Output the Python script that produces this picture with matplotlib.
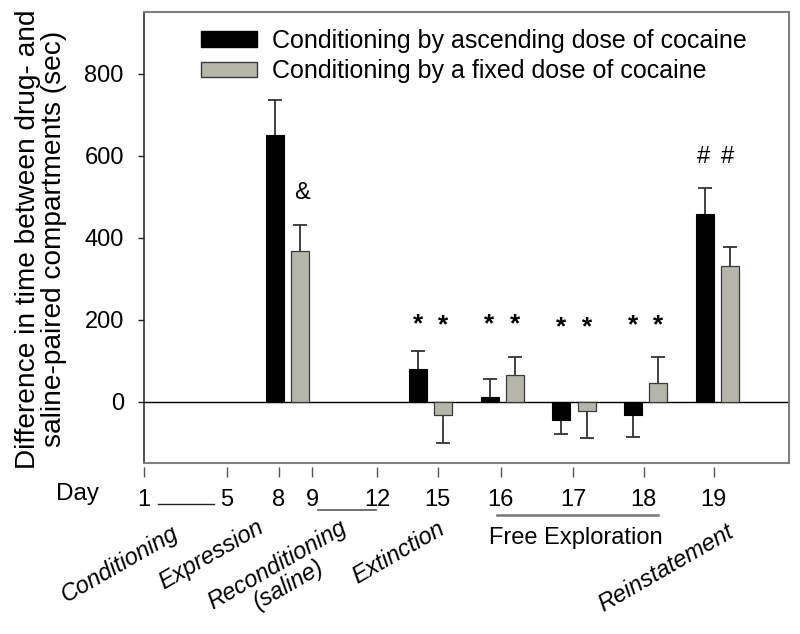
import matplotlib
matplotlib.use("Agg")
import matplotlib.pyplot as plt
import matplotlib.transforms as mtransforms
import numpy as np

plt.rcParams['font.family'] = ['Liberation Sans', 'DejaVu Sans']

# ---- data ----
groups = ['Expression', 'Extinction', 'Day 16', 'Day 17', 'Day 18', 'Reinstatement']
ascending = [650, 79, 12, -45, -33, 458]
ascending_err = [85, 44, 43, 34, 54, 63]
fixed = [366, -34, 64, -24, 44, 330]
fixed_err = [65, 68, 45, 66, 65, 46]
star_asc_y = [None, 189, 189, 181, 185, None]
star_fix_y = [None, 185, 189, 181, 187, None]
amp_y = 508
hash_y = 596
yticks = [0, 200, 400, 600, 800]
day_labels = ['1', '5', '8', '9', '12', '15', '16', '17', '18', '19']
phase_labels = ['Conditioning', 'Expression', 'Reconditioning\n(saline)', 'Extinction', 'Reinstatement']
legend_labels = ['Conditioning by ascending dose of cocaine', 'Conditioning by a fixed dose of cocaine']

# ---- layout (positions, not data) ----
slots = np.array([2, 4, 5, 6, 7, 8], dtype=float)
day_tick_pos = [0.0, 1.16, 1.88, 2.35, 3.25, 4.10, 4.98, 5.99, 6.97, 7.95]
phase_pos = [(-0.335, -0.224), (0.934, -0.204), (1.94, -0.248), (3.556, -0.199), (7.29, -0.233)]
off = 0.178
bw = 0.25

fig = plt.figure(figsize=(8, 6.34), dpi=100)
ax = fig.add_axes([144/800, 1-463/634, 645/800, 451/634])

asc = np.array(ascending, float)
fx = np.array(fixed, float)
ae = np.array(ascending_err, float)
fe = np.array(fixed_err, float)

b1 = ax.bar(slots - off, asc, bw, color='black', edgecolor='black', linewidth=0.8,
            zorder=3, label=legend_labels[0])
b2 = ax.bar(slots + off, fx, bw, color='#b5b6a9', edgecolor='#3a3a3a', linewidth=0.9,
            zorder=3, label=legend_labels[1])

# one-sided error bars (away from zero), cap only at the far end
for xs, vals, errs in [(slots - off, asc, ae), (slots + off, fx, fe)]:
    ends = vals + np.sign(vals) * errs
    ax.vlines(xs, vals, ends, color='#333333', lw=1.3, zorder=2.5)
    ax.plot(xs, ends, ls='none', marker='_', ms=9.5, mew=1.3, color='#333333', zorder=2.5)

ax.axhline(0, color='black', lw=1.0, zorder=2)
ax.set_xlim(0, 9.0)
ax.set_ylim(-150, 950)
ax.set_yticks(yticks)
ax.set_xticks([])
ax.tick_params(axis='y', direction='out', length=4.5, width=1, pad=10, labelsize=17,
               colors='#222222', labelcolor='black')
for s in ['top', 'right', 'bottom']:
    ax.spines[s].set_color('#808080')
    ax.spines[s].set_linewidth(1.5)
ax.spines['left'].set_color('#222222')
ax.spines['left'].set_linewidth(1.1)

fig.text(41/800, 1-239/634, 'Difference in time between drug- and\nsaline-paired compartments (sec)',
         rotation=90, ha='center', va='center', fontsize=20.2, linespacing=1.0,
         multialignment='center')

# significance marks
for i, s in enumerate(slots):
    if star_asc_y[i] is not None:
        ax.text(s - off, star_asc_y[i], '*', ha='center', va='center', fontsize=19, fontweight='bold')
    if star_fix_y[i] is not None:
        ax.text(s + off, star_fix_y[i], '*', ha='center', va='center', fontsize=19, fontweight='bold')
ax.text(slots[0] + off + 0.03, amp_y, '&', ha='center', va='center', fontsize=17)
ax.text(slots[-1] - off - 0.02, hash_y, '#', ha='center', va='center', fontsize=17)
ax.text(slots[-1] + off - 0.03, hash_y, '#', ha='center', va='center', fontsize=17)

# legend
leg = ax.legend(handles=[b1, b2], labels=legend_labels, loc='upper left',
                bbox_to_anchor=(201/800, 1-29/634), bbox_transform=fig.transFigure,
                frameon=False, fontsize=18, handlelength=2.24, handleheight=0.6,
                handletextpad=0.6, labelspacing=0.25, borderpad=0, borderaxespad=0)
for h in leg.legend_handles:
    h.set_linewidth(1.0)

# day axis
sec = ax.secondary_xaxis(-4/451)
sec.set_xticks(day_tick_pos, labels=day_labels)
sec.spines['bottom'].set_visible(False)
sec.tick_params(axis='x', direction='out', length=7.5, width=1.0, colors='#555555',
                labelcolor='black', labelsize=17, pad=8)

fig.text(77/800, 1-494/634, 'Day', ha='center', va='center', fontsize=17.5)

trans = mtransforms.blended_transform_factory(ax.transData, ax.transAxes)
ax.plot([0.195, 0.976], [-0.091, -0.091], transform=trans, clip_on=False, color='#222222', lw=1.0)
ax.plot([2.43, 3.24], [-0.104, -0.104], transform=trans, clip_on=False, color='#666666', lw=1.3)
ax.plot([4.92, 7.17], [-0.115, -0.115], transform=trans, clip_on=False, color='#777777', lw=1.8)

for (px, py), lab in zip(phase_pos, phase_labels):
    ax.text(px, py, lab, transform=trans, rotation=30, rotation_mode='anchor',
            ha='center', va='center', fontsize=17, style='italic', multialignment='center',
            linespacing=1.0)
ax.text(6.025, -0.166, 'Free Exploration', transform=trans, ha='center', va='center', fontsize=17)

fig.savefig('out.png', dpi=100)
